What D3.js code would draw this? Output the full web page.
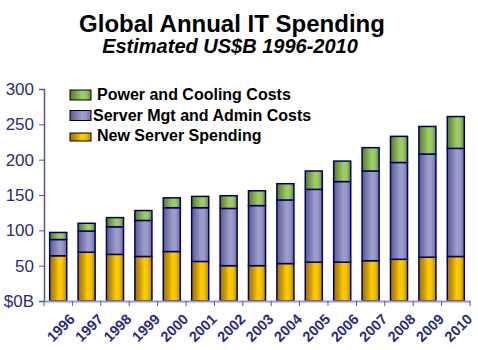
<!DOCTYPE html>
<html>
<head>
<meta charset="utf-8">
<script src="https://cdn.jsdelivr.net/npm/d3@7"></script>
<style>
  body { margin: 0; background: #fff; }
  svg { display: block; font-family: "Liberation Sans", Arial, sans-serif; }
</style>
</head>
<body>
<div id="chart"></div>
<script>
// values (US$B)
const years = ["1996","1997","1998","1999","2000","2001","2002","2003","2004","2005","2006","2007","2008","2009","2010"];
const newServer = [64, 69, 66, 63, 70, 56, 50, 50, 53, 55, 55, 57, 59, 62, 63];
const serverMgt = [23, 30, 39, 51, 62, 76, 81, 85, 90, 103, 114, 127, 137, 146, 153];
const powerCooling = [10, 11, 13, 14, 14, 16, 18, 21, 23, 26, 29, 33, 37, 39, 45];
const yTicks = [0, 50, 100, 150, 200, 250, 300];

const seriesKeys = ["newServer", "serverMgt", "powerCooling"];
const seriesNames = {
  powerCooling: "Power and Cooling Costs",
  serverMgt: "Server Mgt and Admin Costs",
  newServer: "New Server Spending"
};
// gradient stops: dark edge, mid, bright, mid, dark edge
const seriesGrad = {
  newServer: ["#9c7400", "#cc9900", "#ffcc00", "#f2c200", "#b38900"],
  serverMgt: ["#5c5c88", "#7d7db0", "#9c9cd0", "#9999c8", "#6a6a94"],
  powerCooling: ["#567a22", "#7ea64a", "#9ccc68", "#99c966", "#638a30"]
};

const data = years.map((y, i) => ({
  year: y,
  newServer: newServer[i],
  serverMgt: serverMgt[i],
  powerCooling: powerCooling[i]
}));

const width = 478, height = 350;
const svg = d3.select("#chart").append("svg")
  .attr("width", width)
  .attr("height", height);

const defs = svg.append("defs");
seriesKeys.forEach(k => {
  const g = defs.append("linearGradient")
    .attr("id", "grad-" + k)
    .attr("x1", "0%").attr("x2", "100%")
    .attr("y1", "0%").attr("y2", "0%");
  const offs = [0, 0.3, 0.55, 0.75, 1];
  seriesGrad[k].forEach((c, i) => {
    g.append("stop").attr("offset", offs[i]).attr("stop-color", c);
  });
});

// title
svg.append("text")
  .attr("x", 232).attr("y", 32)
  .attr("text-anchor", "middle")
  .style("font-size", "24px").style("font-weight", "bold")
  .text("Global Annual IT Spending");
svg.append("text")
  .attr("x", 230).attr("y", 53)
  .attr("text-anchor", "middle")
  .style("font-size", "20px").style("font-weight", "bold").style("font-style", "italic")
  .text("Estimated US$B 1996-2010");

// scales
const x = d3.scaleBand()
  .domain(years)
  .range([44, 470])
  .paddingInner(0.4)
  .paddingOuter(0.2);

const y = d3.scaleLinear()
  .domain([0, 300])
  .range([301, 89]);

const axisColor = "#2b2b7a";

// y axis
const yAxis = d3.axisLeft(y)
  .tickValues(yTicks)
  .tickSize(5)
  .tickPadding(5)
  .tickFormat(d => d === 0 ? "$0B" : d);

const yAxisG = svg.append("g")
  .attr("transform", "translate(44,0)")
  .call(yAxis);
yAxisG.select(".domain").attr("stroke", "#55558f").attr("stroke-width", 1.5);
yAxisG.selectAll(".tick line").attr("stroke", "#55558f");
yAxisG.selectAll(".tick text")
  .attr("fill", axisColor)
  .style("font-size", "17px")
  .style("font-family", "Liberation Sans, Arial, sans-serif");

// stacked bars
const stack = d3.stack().keys(seriesKeys);
const layers = stack(data);

svg.append("g").selectAll("g")
  .data(layers)
  .join("g")
  .attr("fill", d => `url(#grad-${d.key})`)
  .selectAll("rect")
  .data(d => d)
  .join("rect")
  .attr("x", d => x(d.data.year))
  .attr("y", d => y(d[1]))
  .attr("width", x.bandwidth())
  .attr("height", d => y(d[0]) - y(d[1]))
  .attr("stroke", "#000066")
  .attr("stroke-width", 1.5);

// x axis
const xAxis = d3.axisBottom(x).tickSize(0).tickPadding(0);
const xAxisG = svg.append("g")
  .attr("transform", "translate(0,301)")
  .call(xAxis);
xAxisG.select(".domain").attr("stroke", "#9999cc").attr("stroke-width", 2);
xAxisG.selectAll(".tick text")
  .attr("fill", axisColor)
  .style("font-size", "14.5px")
  .style("font-weight", "bold")
  .style("font-family", "Liberation Sans, Arial, sans-serif")
  .attr("text-anchor", "end")
  .attr("dy", null)
  .attr("transform", `translate(${x.bandwidth() / 2 + 9},19) rotate(-45)`);

// tick marks between categories
const step = x.step();
const boundaries = years.map(yr => x(yr) - step * x.paddingInner() / 2).concat([470]);
svg.append("g").selectAll("line")
  .data(boundaries)
  .join("line")
  .attr("x1", d => d).attr("x2", d => d)
  .attr("y1", 301).attr("y2", 306)
  .attr("stroke", "#55558f");

// legend
const legendItems = ["powerCooling", "serverMgt", "newServer"];
const legend = svg.append("g");
legendItems.forEach((k, i) => {
  const ly = 100 + i * 20.5;
  const sh = k === "newServer" ? 8 : 10;
  legend.append("rect")
    .attr("x", 70).attr("y", ly - sh)
    .attr("width", 21).attr("height", sh)
    .attr("fill", `url(#grad-${k})`)
    .attr("stroke", "#000000").attr("stroke-width", 1);
  legend.append("text")
    .attr("x", k === "serverMgt" ? 93 : 97).attr("y", ly)
    .style("font-size", "16px").style("font-weight", "bold")
    .text(seriesNames[k]);
});
</script>
</body>
</html>
